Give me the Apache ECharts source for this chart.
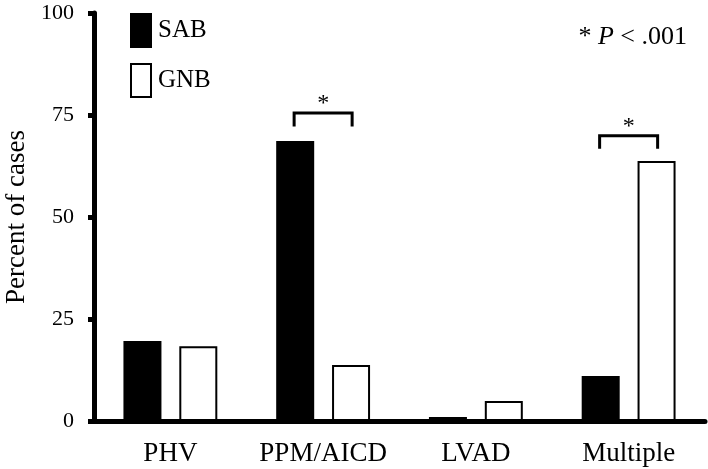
<!DOCTYPE html>
<html>
<head>
<meta charset="utf-8">
<script src="https://cdn.jsdelivr.net/npm/echarts@6/dist/echarts.min.js"></script>
<style>
  html, body { margin: 0; padding: 0; background: #fff; }
  #chart { width: 708px; height: 469px; }
</style>
</head>
<body>
<div id="chart"></div>
<script>
var categories = ['PHV', 'PPM/AICD', 'LVAD', 'Multiple'];
var sabValues = [19.6, 68.6, 1.0, 11.0];
var gnbValues = [18.3, 13.7, 4.9, 63.7];
var yTicks = [0, 25, 50, 75, 100];
// significance brackets: [category index, bracket top, leg bottom]
var brackets = [[1, 75.5, 72.2], [3, 69.9, 66.7]];

var serif = 'Liberation Serif';
var barW = 38;

var chart = echarts.init(document.getElementById('chart'));
chart.setOption({
    animation: false,
    backgroundColor: '#fff',
    textStyle: { fontFamily: serif },
    title: {
        text: '{a|* }{b|P}{a| < .001}',
        right: 16,
        top: 19,
        textStyle: {
            rich: {
                a: { fontFamily: serif, fontSize: 26, fontWeight: 'normal', color: '#000' },
                b: { fontFamily: serif, fontSize: 26, fontWeight: 'normal', color: '#000', fontStyle: 'italic' }
            }
        }
    },
    legend: {
        orient: 'vertical',
        left: 125,
        top: 8,
        icon: 'rect',
        itemWidth: 20,
        itemHeight: 33,
        itemGap: 15,
        data: ['SAB', 'GNB'],
        textStyle: { fontFamily: serif, fontSize: 25, color: '#000', padding: [0, 0, 0, 2] }
    },
    grid: {
        left: 94,
        right: 3,
        top: 13,
        bottom: 48,
        containLabel: false,
        outerBoundsMode: 'none'
    },
    xAxis: {
        type: 'category',
        data: categories,
        axisLine: { lineStyle: { color: '#000', width: 5 } },
        axisTick: { alignWithLabel: true, length: 7, lineStyle: { color: '#000', width: 5 } },
        axisLabel: { interval: 0, hideOverlap: false, color: '#000', fontSize: 27, fontFamily: serif, margin: 19 }
    },
    yAxis: {
        type: 'value',
        min: yTicks[0],
        max: yTicks[yTicks.length - 1],
        interval: 25,
        name: 'Percent of cases',
        nameLocation: 'middle',
        nameGap: 57,
        nameTextStyle: { color: '#000', fontSize: 27, fontFamily: serif },
        axisLine: { show: true, lineStyle: { color: '#000', width: 5 } },
        axisTick: { show: true, length: 6, lineStyle: { color: '#000', width: 5 } },
        axisLabel: { color: '#000', fontSize: 22, fontFamily: serif, margin: 20 },
        splitLine: { show: false }
    },
    series: [
        {
            name: 'SAB', type: 'bar', barWidth: barW, barGap: '47%',
            itemStyle: { color: '#000', borderColor: '#000', borderWidth: 2 },
            data: sabValues
        },
        {
            name: 'GNB', type: 'bar', barWidth: barW,
            itemStyle: { color: '#fff', borderColor: '#000', borderWidth: 2 },
            data: gnbValues
        },
        {
            type: 'custom',
            silent: true,
            data: brackets,
            renderItem: function (params, api) {
                var top = api.coord([api.value(0), api.value(1)]);
                var leg = api.coord([api.value(0), api.value(2)]);
                var off = (barW + 2 + 18) / 2;
                return {
                    type: 'group',
                    children: [
                        {
                            type: 'polyline',
                            shape: { points: [[top[0] - off, leg[1]], [top[0] - off, top[1]], [top[0] + off, top[1]], [top[0] + off, leg[1]]] },
                            style: { stroke: '#000', lineWidth: 3, fill: null }
                        },
                        {
                            type: 'text',
                            x: top[0], y: top[1] + 3,
                            style: { text: '*', fontSize: 24, fontFamily: serif, fill: '#000', align: 'center', verticalAlign: 'bottom' }
                        }
                    ]
                };
            }
        }
    ]
});
</script>
</body>
</html>
